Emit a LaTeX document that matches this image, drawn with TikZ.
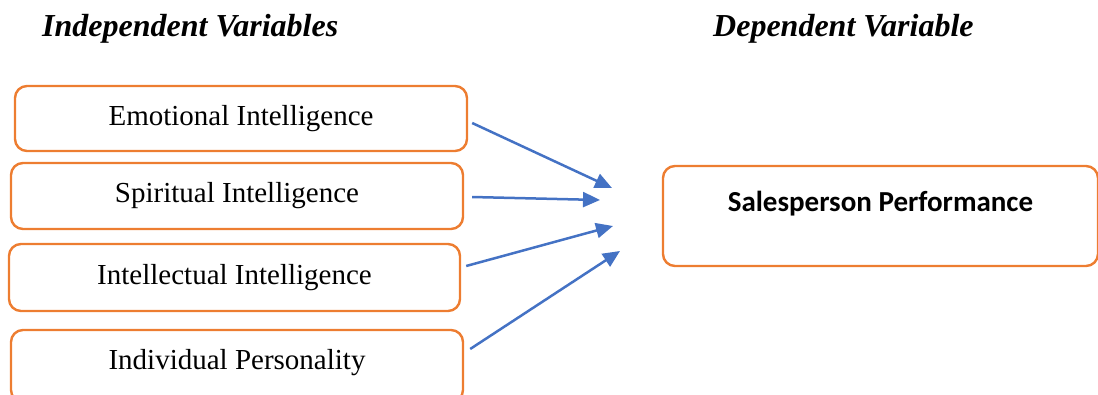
\documentclass[tikz,border=0pt]{standalone}
\usepackage{fontspec}
\setmainfont{Liberation Serif}
\newfontfamily\calibri{Carlito}
\usetikzlibrary{arrows.meta}
\definecolor{boxorange}{HTML}{ED7D31}
\definecolor{arrowblue}{HTML}{4472C4}
\tikzset{
    varbox/.style={draw=boxorange, line width=2.4pt, rounded corners=12pt,
        minimum width=452pt, minimum height=65pt, inner sep=0pt,
        font=\fontsize{29}{34}\selectfont},
    linkarrow/.style={draw=arrowblue, line width=2.5pt,
        -{Triangle[length=17pt,width=15pt]}},
    heading/.style={anchor=base west, inner sep=0pt,
        font=\fontsize{32}{36}\selectfont\bfseries\itshape}
}

\begin{document}
\begin{tikzpicture}[x=1pt,y=-1pt]
    \useasboundingbox (0,0) rectangle (1098,394);
    % headings
    \node[heading] (indep) at (42,36) {Independent Variables};
    \node[heading] (dep) at (713,36) {Dependent Variable};
    % independent variables
    \node[varbox] (emo) at (241,118.5) {Emotional Intelligence};
    \node[varbox, minimum height=66pt] (spi) at (237,196) {Spiritual Intelligence};
    \node[varbox, minimum width=451pt, minimum height=67pt] (inte) at (234.5,277.5) {Intellectual Intelligence};
    \node[varbox, minimum height=72pt, text depth=13pt] (pers) at (237,366) {Individual Personality};
    % dependent variable
    \node[varbox, minimum width=435pt, minimum height=100pt, align=center,
        font=\fontsize{29}{34}\selectfont\calibri\bfseries] (perf) at (880.5,216)
        {Salesperson Performance\\[-4pt]\mbox{}};
    % arrow tips
    \coordinate (t1) at (612,188);
    \coordinate (t2) at (600,200);
    \coordinate (t3) at (613,226);
    \coordinate (t4) at (620,251);
    \draw[linkarrow] ([xshift=4pt,yshift=-4.5pt]emo.east) -- (t1);
    \draw[linkarrow] ([xshift=8pt,yshift=-1pt]spi.east) -- (t2);
    \draw[linkarrow] ([xshift=5pt,yshift=11.5pt]inte.east) -- (t3);
    \draw[linkarrow] ([xshift=6pt,yshift=17pt]pers.east) -- (t4);
\end{tikzpicture}
\end{document}
